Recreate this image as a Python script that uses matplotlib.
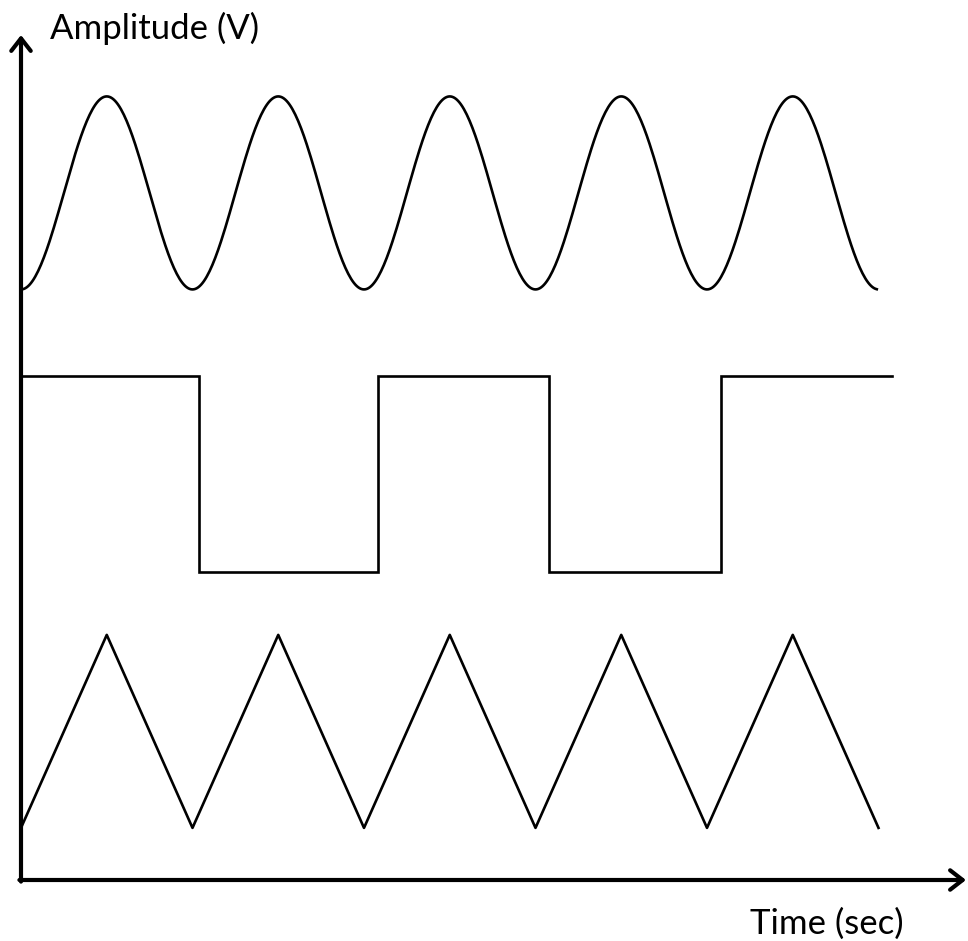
import numpy as np
import matplotlib
matplotlib.use("Agg")
import matplotlib.pyplot as plt

# ---- waveform data (time in sec, amplitude in V) ----
sine_period = 1.0
sine_span = (0.0, 4.99)
sine_center = 7.12
sine_amp = 1.0

square_t = [0.0, 1.04, 1.04, 2.08, 2.08, 3.08, 3.08, 4.08, 4.08, 5.08]
square_v = [5.22, 5.22, 3.19, 3.19, 5.22, 5.22, 3.19, 3.19, 5.22, 5.22]

tri_t = [0.0, 0.5, 1.0, 1.5, 2.0, 2.5, 3.0, 3.5, 4.0, 4.5, 5.0]
tri_v = [0.54, 2.54, 0.54, 2.54, 0.54, 2.54, 0.54, 2.54, 0.54, 2.54, 0.54]

fig = plt.figure(figsize=(9.68, 9.41), dpi=100)
ax = fig.add_axes([0, 0, 1, 1])
ax.set_xlim(-21 / 171.5, 947 / 171.5)
ax.set_ylim(-61 / 96.5, 880 / 96.5)
ax.axis("off")

t = np.linspace(sine_span[0], sine_span[1], 600)
ax.plot(t, sine_center - sine_amp * np.cos(2 * np.pi * t / sine_period),
        color="black", lw=1.9)
ax.plot(square_t, square_v, color="black", lw=1.9, solid_joinstyle="miter")
ax.plot(tri_t, tri_v, color="black", lw=1.9)

# axes with arrows
arrow = dict(arrowstyle="->,head_length=0.45,head_width=0.35", lw=3, color="black",
             shrinkA=0, shrinkB=0, mutation_scale=20)
ax.annotate("", xy=(0, 845 / 96.5), xytext=(0, -1.6 / 96.5), arrowprops=arrow)
ax.annotate("", xy=(945 / 171.5, 0), xytext=(-1.6 / 171.5, 0), arrowprops=arrow)

ax.text(29 / 171.5, 841 / 96.5, "Amplitude (V)", fontsize=25, family="Lato",
        ha="left", va="baseline")
ax.text(729 / 171.5, -54 / 96.5, "Time (sec)", fontsize=25, family="Lato",
        ha="left", va="baseline")

plt.savefig("out.png", dpi=100)
